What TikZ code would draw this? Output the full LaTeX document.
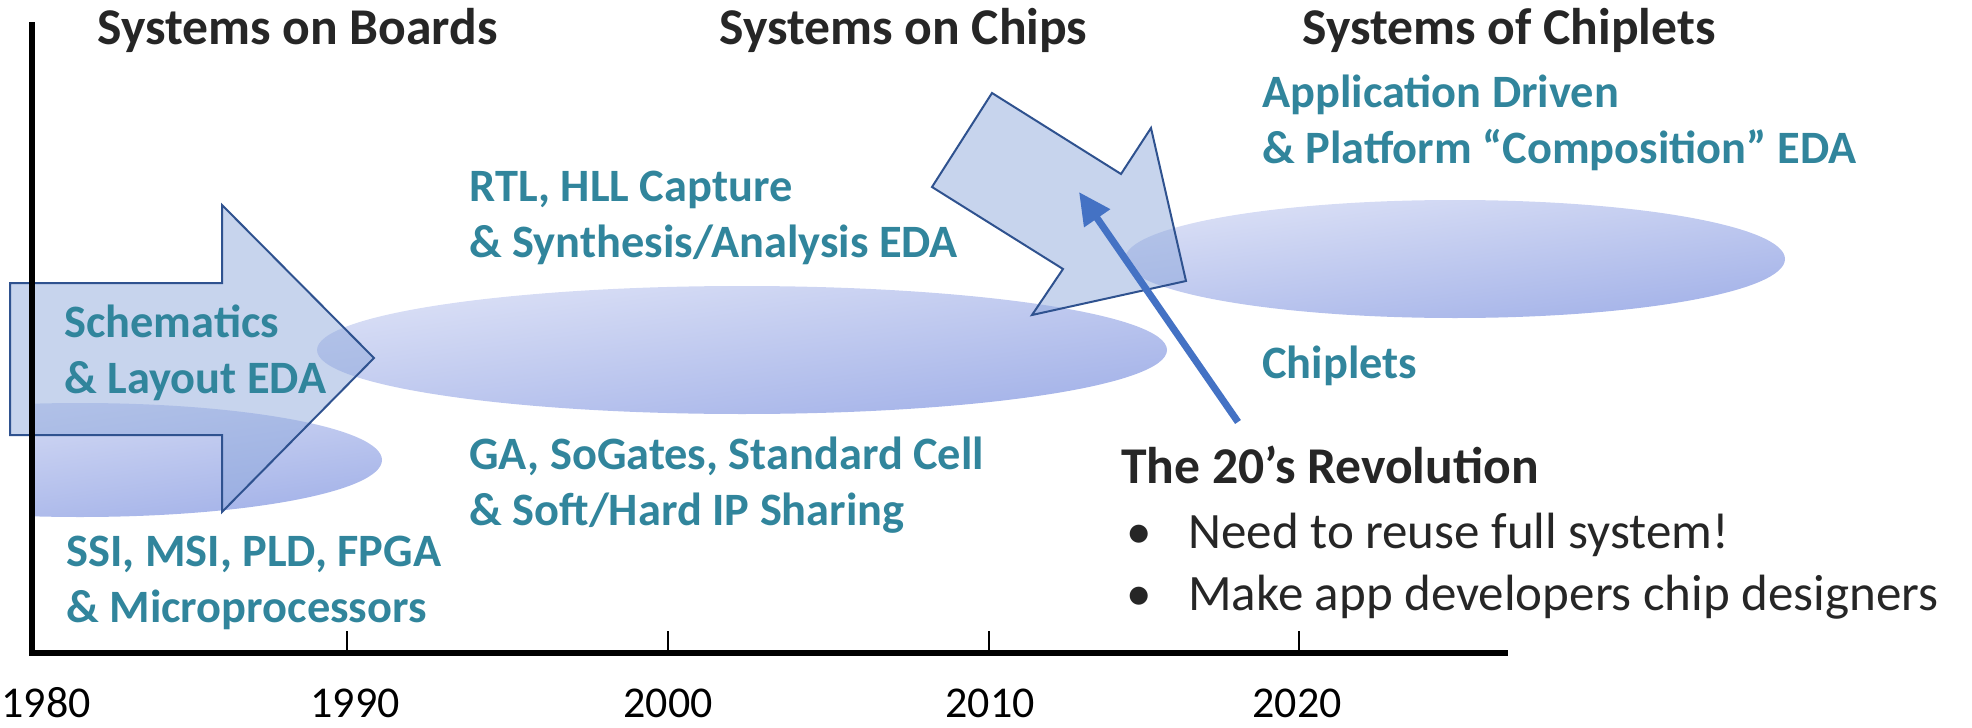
\documentclass[tikz,border=0pt]{standalone}
\usepackage{fontspec}
\setmainfont{Carlito}
\usetikzlibrary{arrows.meta,shapes.geometric}
\definecolor{ink}{HTML}{262626}
\definecolor{tealtxt}{HTML}{31859C}
\definecolor{haze}{HTML}{DCE1F6}
\definecolor{hazedeep}{HTML}{A2B1E8}
\definecolor{arrowfill}{HTML}{8FA9DC}
\definecolor{arrowline}{HTML}{2F528F}
\definecolor{pointer}{HTML}{4472C4}

\begin{document}
\begin{tikzpicture}[x=0.5pt,y=-0.5pt,every node/.style={inner sep=0pt},
  era/.style={font=\fontsize{25.8}{30}\selectfont\bfseries,text=ink,anchor=base west},
  note/.style={font=\fontsize{23.2}{28}\selectfont\bfseries,text=tealtxt,align=left,anchor=base west},
  year/.style={font=\fontsize{22}{25}\selectfont,anchor=base},
  cloud/.style={ellipse,top color=haze,bottom color=hazedeep,shading angle=8},
  bigarrow/.style={draw=arrowline,line width=1pt,fill=arrowfill,fill opacity=0.5,line join=miter}]
\useasboundingbox (0,0) rectangle (1972,728);

% technology clouds
\begin{scope}
\clip (32,0) rectangle (1972,728);
\node[cloud,minimum width=302pt,minimum height=57pt] (ssi) at (80,460) {};
\end{scope}
\node[cloud,minimum width=425pt,minimum height=64pt] (soc) at (742,350) {};
\node[cloud,minimum width=330pt,minimum height=59pt] (chip) at (1455,259) {};

% shift arrows
\draw[bigarrow] (10,283) -- (222,283) -- (222,205) -- (374,358) -- (222,512) -- (222,435) -- (10,435) -- cycle;
\draw[bigarrow] (992,93) -- (1121,174) -- (1151,128) -- (1186,281) -- (1032,315) -- (1063,269) -- (932,187) -- cycle;

% time axis
\draw[line width=3pt] (32,22) -- (32,653) -- (1508,653);
\foreach \tx in {347,668,989,1299}
  \draw[line width=1pt] (\tx,653) -- (\tx,631);
\foreach \cx/\yr in {46/1980,355/1990,668/2000,990/2010,1297/2020}
  \node[year] (y\yr) at (\cx,717) {\yr};

\node[era] (boards) at (97,45) {Systems on Boards};
\node[era] (chips) at (719,45) {Systems on Chips};
\node[era] (chiplets) at (1302,45) {Systems of Chiplets};

% multi-line notes sit on their last baseline
\node[note] (layout) at (64,393) {Schematics\\\& Layout EDA};
\node[note] (parts) at (66,622) {SSI, MSI, PLD, FPGA\\\& Microprocessors};
\node[note] (synth) at (469,257) {RTL, HLL Capture\\\& Synthesis/Analysis EDA};
\node[note] (cells) at (469,525) {GA, SoGates, Standard Cell\\\& Soft/Hard IP Sharing};
\node[note] (compose) at (1262,163) {Application Driven\\\& Platform “Composition” EDA};
\node[note] (chiplet) at (1262,378) {Chiplets};

\node[era] (revolution) at (1121,483) {The 20’s Revolution};
\node[anchor=base west,font=\fontsize{25.5}{31}\selectfont,text=ink,align=left] (needs) at (1126,610)
  {\makebox[31pt][l]{\textbullet}Need to reuse full system!\\\makebox[31pt][l]{\textbullet}Make app developers chip designers};

\coordinate (revtail) at (1238,422);
\coordinate (revtip) at (1079,192);
\draw[pointer,line width=3.5pt,-{Triangle[length=16pt,width=15pt]}] (revtail) -- (revtip);
\end{tikzpicture}
\end{document}
